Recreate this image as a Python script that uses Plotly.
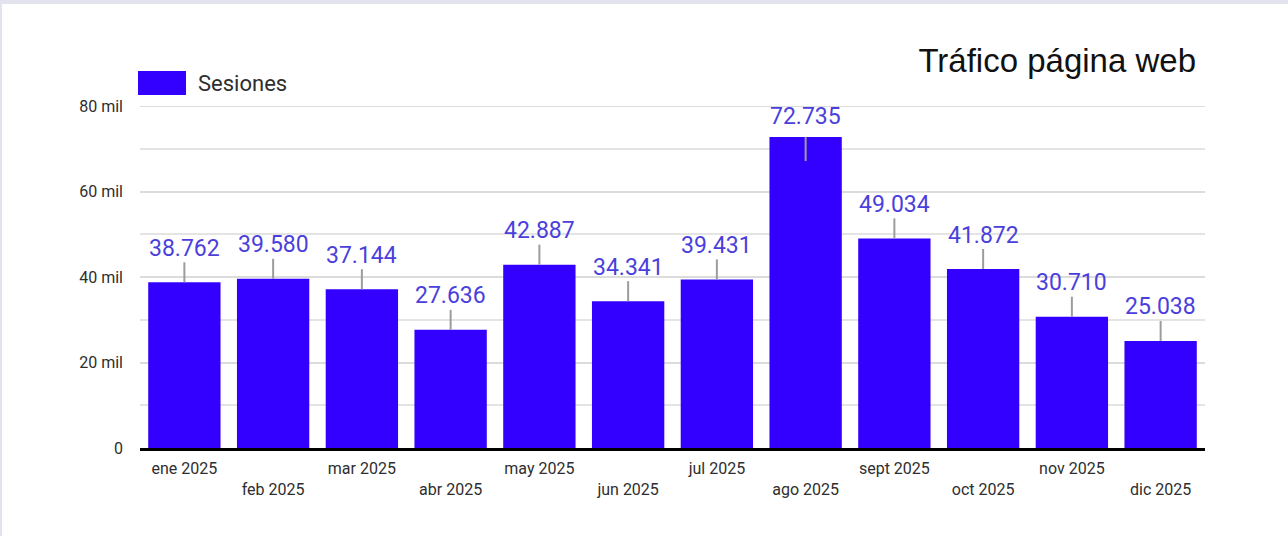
import plotly.graph_objects as go

# Monthly web sessions, 2025
months = ["ene 2025", "feb 2025", "mar 2025", "abr 2025", "may 2025", "jun 2025",
          "jul 2025", "ago 2025", "sept 2025", "oct 2025", "nov 2025", "dic 2025"]
sessions = [38762, 39580, 37144, 27636, 42887, 34341, 39431, 72735, 49034, 41872, 30710, 25038]

y_max = 80000
y_tick_vals = [0, 20000, 40000, 60000, 80000]
y_tick_text = ["0", "20 mil", "40 mil", "60 mil", "80 mil"]

series_name = "Sesiones"
chart_title = "Tráfico página web"

# Canvas / plot-area geometry (pixels)
W, H = 1288, 536
ML, MR, MT, MB = 140, 83, 106, 88
plot_w = W - ML - MR
plot_h = H - MT - MB
units_per_px = y_max / plot_h

BAR = "#3300ff"
LABEL = "#4b3fdc"
LEADER = "#9c9c9c"
TEXT = "#2e2e2e"
GRID = "#dcdcdc"


def px_x(p):
    """pixel x -> paper x"""
    return (p - ML) / plot_w


def px_y(p):
    """pixel y -> paper y"""
    return (H - MB - p) / plot_h


def es_thousands(v):
    return f"{v:,}".replace(",", ".")


fig = go.Figure()
fig.add_bar(x=months, y=sessions, marker=dict(color=BAR, line=dict(width=0)),
            name=series_name, showlegend=False, hoverinfo="x+y")

shapes = []
annotations = []

# gridline along the top of the value range
shapes.append(dict(type="line", xref="paper", yref="y", x0=0, x1=1,
                   y0=y_max, y1=y_max, line=dict(color=GRID, width=2),
                   layer="below"))

# value labels with a short leader line down to each bar
for m, v in zip(months, sessions):
    normal_shift = 34
    lead_len = 20 * units_per_px
    if v + (normal_shift + 12) * units_per_px > y_max:
        # not enough room above: label sits lower, leader drops into the bar
        shift = 21
        y0, y1 = v - 24 * units_per_px, v
    else:
        shift = normal_shift
        y0, y1 = v, v + lead_len
    shapes.append(dict(type="line", xref="x", yref="y", x0=m, x1=m, y0=y0, y1=y1,
                       line=dict(color=LEADER, width=2), layer="above"))
    annotations.append(dict(x=m, y=v, xref="x", yref="y", text=es_thousands(v),
                            showarrow=False, yshift=shift, yanchor="middle",
                            font=dict(family="Roboto", size=23, color=LABEL)))

# light frame strips along top and left edges
shapes.append(dict(type="rect", xref="paper", yref="paper", layer="below",
                   x0=px_x(0), x1=px_x(W), y0=px_y(4), y1=px_y(0),
                   fillcolor="#e3e3ef", line=dict(width=0)))
shapes.append(dict(type="rect", xref="paper", yref="paper", layer="below",
                   x0=px_x(0), x1=px_x(2), y0=px_y(H), y1=px_y(0),
                   fillcolor="#e3e3ef", line=dict(width=0)))

# legend key
shapes.append(dict(type="rect", xref="paper", yref="paper",
                   x0=px_x(138), x1=px_x(186), y0=px_y(95), y1=px_y(71),
                   fillcolor=BAR, line=dict(width=0)))
annotations.append(dict(xref="paper", yref="paper", x=px_x(196), y=px_y(83),
                        xanchor="left", yanchor="middle", showarrow=False,
                        text=series_name,
                        font=dict(family="Roboto", size=22, color=TEXT)))

# staggered month labels
tick_text = [t if i % 2 == 0 else "<br>" + t for i, t in enumerate(months)]

fig.update_layout(
    width=W, height=H,
    margin=dict(l=ML, r=MR, t=MT, b=MB, pad=0),
    paper_bgcolor="white", plot_bgcolor="white",
    bargap=0.185,
    title=dict(text=chart_title, xref="container", yref="container",
               x=1196 / W, xanchor="right", y=1 - 60 / H, yanchor="middle",
               font=dict(family="Liberation Sans", size=33, color="#111111")),
    shapes=shapes,
    annotations=annotations,
    xaxis=dict(tickmode="array", tickvals=months, ticktext=tick_text,
               tickfont=dict(family="Roboto", size=16, color=TEXT),
               showgrid=False, showline=True, linecolor="#000000", linewidth=3,
               ticks="", ticklabelstandoff=4, layer="above traces"),
    yaxis=dict(range=[0, y_max], tickmode="array", tickvals=y_tick_vals,
               ticktext=y_tick_text,
               tickfont=dict(family="Roboto", size=16, color=TEXT),
               showgrid=True, gridcolor=GRID, gridwidth=2,
               minor=dict(tickmode="linear", tick0=0, dtick=10000, showgrid=True,
                          gridcolor="#e4e4e4", gridwidth=2),
               zeroline=False, showline=False, ticks="", ticklabelstandoff=16),
    showlegend=False,
)

fig.write_html("out.html")
